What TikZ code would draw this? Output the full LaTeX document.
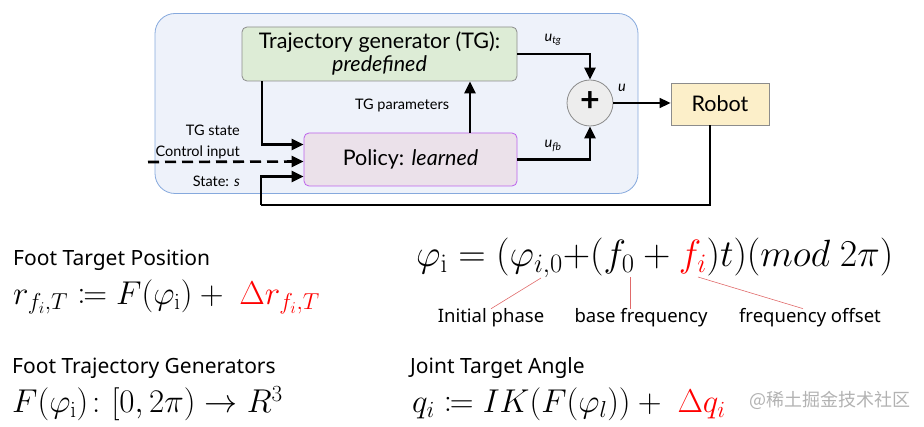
\RequirePackage{fix-cm}
\documentclass[tikz,border=0pt]{standalone}
\usepackage{amsmath, amssymb}
\usepackage{mathtools}
\usepackage[no-math]{fontspec}
\setmainfont{Lato}
\newfontfamily\notefont{Noto Sans}
\newfontfamily\cjk{Noto Sans CJK SC}
\usepackage{xcolor}
\usetikzlibrary{positioning, arrows.meta, calc}

\definecolor{panelfill}{HTML}{EEF2FA}
\definecolor{paneldraw}{HTML}{86A9DD}
\definecolor{tgfill}{HTML}{DDECD6}
\definecolor{polfill}{HTML}{EBE1EA}
\definecolor{poldraw}{HTML}{BC62EC}
\definecolor{robfill}{HTML}{FCEFC9}
\definecolor{boxdraw}{HTML}{8C8C8C}
\definecolor{eqred}{HTML}{FF0000}
\definecolor{tagred}{HTML}{E06A6A}

\begin{document}
\begin{tikzpicture}[x=1pt, y=-1pt,
    block/.style={draw=boxdraw, line width=0.8pt, rounded corners=5pt, align=center,
      font=\fontsize{21.5}{25}\selectfont, inner sep=0pt},
    flow/.style={line width=2.6pt, -{Triangle[length=12pt, width=11pt]}},
    thinflow/.style={line width=1.6pt, -{Triangle[length=11pt, width=10pt]}},
    sig/.style={font=\fontsize{14.5}{17}\selectfont, inner sep=0pt},
    lbl/.style={font=\notefont\fontsize{21}{24}\selectfont, inner sep=0pt, anchor=base west},
    eqn/.style={font=\fontsize{33}{38}\selectfont, inner sep=0pt, anchor=base west},
    tag/.style={font=\notefont\fontsize{18.5}{22}\selectfont, inner sep=0pt, anchor=base},
    tagline/.style={tagred, line width=0.6pt}]
    \useasboundingbox (0,0) rectangle (924,427);

    % Controller panel
    \node[draw=paneldraw, fill=panelfill, line width=0.8pt, rounded corners=20pt,
      minimum width=483pt, minimum height=180pt] (panel) at (396.5,103.5) {};

    % Blocks
    \node[block, fill=tgfill, minimum width=275pt, minimum height=54pt] (tg) at (379.5,54)
      {Trajectory generator (TG):\\[-2pt] \textit{predefined}};
    \node[block, draw=poldraw, fill=polfill, minimum width=213pt, minimum height=53pt] (policy) at (410.5,159.5)
      {Policy: \textit{learned}};
    \node[circle, draw=boxdraw, fill=black!7, line width=0.8pt, minimum size=46pt, inner sep=0pt,
      font=\fontsize{34}{34}\selectfont\bfseries] (sum) at (590,103) {\raisebox{2pt}{+}};
    \node[block, fill=robfill, rounded corners=0pt, minimum width=98pt, minimum height=42pt] (robot) at (720,104)
      {Robot};

    % Helper points
    \coordinate (pcol) at (470,0);
    \coordinate (scol) at (262,0);
    \coordinate (ctrl) at (148,162);
    \coordinate (fbk) at (261,205);

    % Signals
    \draw[flow] (tg.east) -| (sum.north);
    \draw[flow] (policy.east) -| (sum.south);
    \draw[thinflow] (sum.east) -- (sum.east -| robot.west);
    \draw[flow] (policy.north -| pcol) -- (tg.south -| pcol);
    \draw[flow] (tg.south -| scol) |- ($(policy.west)+(0,-15)$);
    \draw[flow, dashed, dash pattern=on 11pt off 6pt] (ctrl) -- ($(policy.west)+(0,2)$);
    \draw[line width=2.6pt] ($(robot.south)+(-10,0)$) |- (fbk);
    \draw[flow] (fbk) |- ($(policy.west)+(0,17)$);

    % Signal labels
    \node[sig] (utg) at (553,40) {\textit{u}\textsubscript{\textit{tg}}};
    \node[sig] (ufb) at (553,146) {\textit{u}\textsubscript{\textit{fb}}};
    \node[sig] (uout) at (622,88) {\textit{u}};
    \node[sig] (tgpar) at (402,105) {TG parameters};
    \node[sig, anchor=east] (tgst) at (240,130) {TG state};
    \node[sig, anchor=east] (ctin) at (240,152) {Control input};
    \node[sig, anchor=east] (stin) at (240,181) {State: \textit{s}};

    % Formulas
    \node[lbl] (ftp) at (13,266) {Foot Target Position};
    \node[eqn] (rft) at (13,305) {$r_{f_i,T} \coloneqq F(\varphi_{\mathrm{i}}) +\ {\color{eqred}\Delta r_{f_i,T}}$};
    \node[eqn, font=\fontsize{38}{43}\selectfont] (phi) at (416,267) {$\varphi_{\mathrm{i}} = (\varphi_{i,0}{+}(f_0 + {\color{eqred}f_i})t)(mod\ 2\pi)$};
    \node[lbl] (ftg) at (12,374) {Foot Trajectory Generators};
    \node[eqn] (fmap) at (12,413) {$F(\varphi_{\mathrm{i}})\colon [0,2\pi) \to R^3$};
    \node[lbl] (jta) at (410,374) {Joint Target Angle};
    \node[eqn] (qik) at (412,413) {$q_i \coloneqq IK(F(\varphi_l)) +\ {\color{eqred}\Delta q_i}$};

    % Term notes
    \node[tag] (iniph) at (491,323) {Initial phase};
    \node[tag] (basefq) at (641,323) {base frequency};
    \node[tag] (offfq) at (810,323) {frequency offset};
    \coordinate (phiidx) at (541,278);
    \coordinate (fzero) at (630,277);
    \coordinate (fidx) at (698,277);
    \draw[tagline] (phiidx) -- (iniph.north);
    \draw[tagline] (fzero) -- (basefq.north -| fzero);
    \draw[tagline] (fidx) -- (offfq.north -| 803,0);

    % Watermark
    \node[font=\cjk\fontsize{18}{20}\selectfont, text=black!30, inner sep=0pt] (wm) at (830,400) {@稀土掘金技术社区};
\end{tikzpicture}
\end{document}
